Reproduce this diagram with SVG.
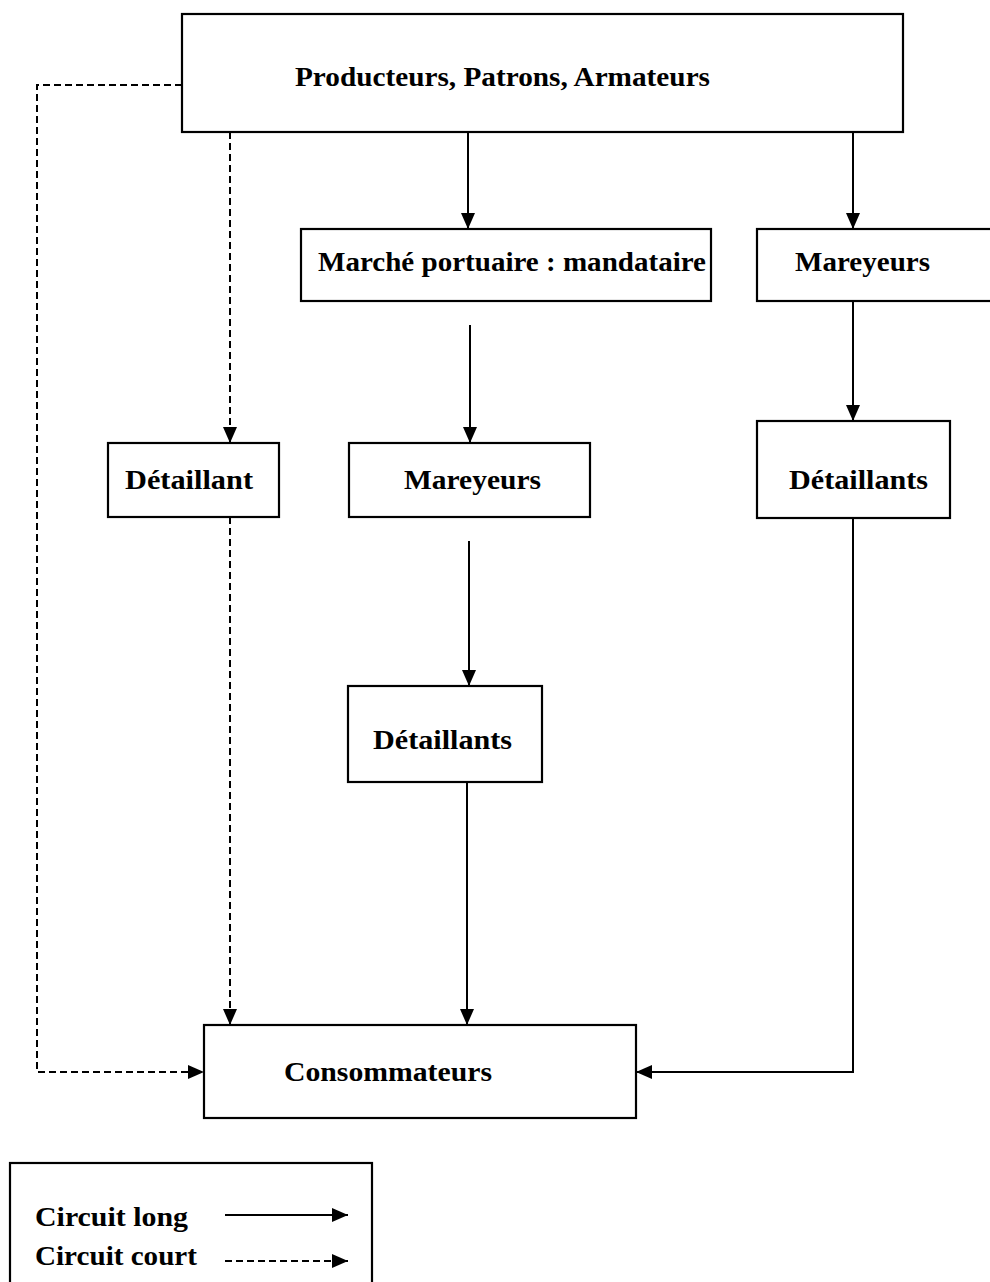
<svg xmlns="http://www.w3.org/2000/svg" width="990" height="1282" viewBox="0 0 990 1282">
<style>
.box{fill:#fff;stroke:#000;stroke-width:2.2}
.t{font-family:"Liberation Serif","Times New Roman",serif;font-weight:bold;font-size:28px;fill:#000}
.lg{font-size:27px}
.solid{fill:none;stroke:#000;stroke-width:2}
.dash{fill:none;stroke:#000;stroke-width:2;stroke-dasharray:7 4}
</style>
<defs>
<marker id="ah" markerUnits="userSpaceOnUse" markerWidth="16" markerHeight="14" refX="16" refY="7" orient="auto">
<path d="M0,0 L16,7 L0,14 Z" fill="#000"/>
</marker>
</defs>
<rect width="990" height="1282" fill="#fff"/>
<g id="connectors">
<line class="solid" x1="468" y1="132" x2="468" y2="229" marker-end="url(#ah)"/>
<line class="solid" x1="853" y1="132" x2="853" y2="229" marker-end="url(#ah)"/>
<line class="solid" x1="470" y1="325" x2="470" y2="443" marker-end="url(#ah)"/>
<line class="solid" x1="853" y1="301" x2="853" y2="421" marker-end="url(#ah)"/>
<line class="solid" x1="469" y1="541" x2="469" y2="686" marker-end="url(#ah)"/>
<line class="solid" x1="467" y1="782" x2="467" y2="1025" marker-end="url(#ah)"/>
<polyline class="solid" points="853,518 853,1072 636,1072" marker-end="url(#ah)"/>
<line class="dash" x1="230" y1="132" x2="230" y2="443" marker-end="url(#ah)"/>
<line class="dash" x1="230" y1="517" x2="230" y2="1025" marker-end="url(#ah)"/>
<polyline class="dash" points="182,85 37,85 37,1072 204,1072" marker-end="url(#ah)"/>
</g>
<g id="producteurs">
<rect class="box" x="182" y="14" width="721" height="118"/>
<text class="t" x="295" y="86" textLength="415" lengthAdjust="spacingAndGlyphs">Producteurs, Patrons, Armateurs</text>
</g>
<g id="marche">
<rect class="box" x="301" y="229" width="410" height="72"/>
<text class="t" x="318" y="271" textLength="388" lengthAdjust="spacingAndGlyphs">Marché portuaire : mandataire</text>
</g>
<g id="mareyeurs-right">
<rect class="box" x="757" y="229" width="240" height="72"/>
<text class="t" x="795" y="271" textLength="135" lengthAdjust="spacingAndGlyphs">Mareyeurs</text>
</g>
<g id="detaillant-left">
<rect class="box" x="108" y="443" width="171" height="74"/>
<text class="t" x="125" y="489" textLength="128" lengthAdjust="spacingAndGlyphs">Détaillant</text>
</g>
<g id="mareyeurs-mid">
<rect class="box" x="349" y="443" width="241" height="74"/>
<text class="t" x="404" y="489" textLength="137" lengthAdjust="spacingAndGlyphs">Mareyeurs</text>
</g>
<g id="detaillants-right">
<rect class="box" x="757" y="421" width="193" height="97"/>
<text class="t" x="789" y="489" textLength="139" lengthAdjust="spacingAndGlyphs">Détaillants</text>
</g>
<g id="detaillants-mid">
<rect class="box" x="348" y="686" width="194" height="96"/>
<text class="t" x="373" y="749" textLength="139" lengthAdjust="spacingAndGlyphs">Détaillants</text>
</g>
<g id="consommateurs">
<rect class="box" x="204" y="1025" width="432" height="93"/>
<text class="t" x="284" y="1081" textLength="208" lengthAdjust="spacingAndGlyphs">Consommateurs</text>
</g>
<g id="legend">
<rect class="box" x="10" y="1163" width="362" height="130"/>
<text class="t lg" x="35" y="1226" textLength="153" lengthAdjust="spacingAndGlyphs">Circuit long</text>
<text class="t lg" x="35" y="1265" textLength="162" lengthAdjust="spacingAndGlyphs">Circuit court</text>
<line class="solid" x1="225" y1="1215" x2="348" y2="1215" marker-end="url(#ah)"/>
<line class="dash" x1="225" y1="1261" x2="348" y2="1261" marker-end="url(#ah)"/>
</g>
</svg>
